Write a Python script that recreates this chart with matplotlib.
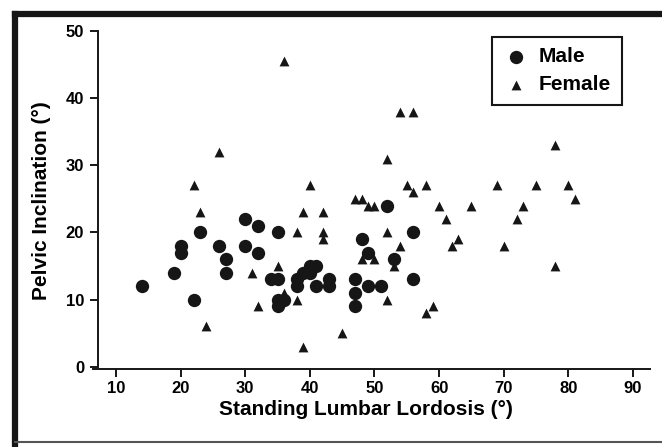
import matplotlib
matplotlib.use("Agg")
from matplotlib import pyplot as plt
from matplotlib.lines import Line2D

# standing lumbar lordosis (x) vs pelvic inclination (y), in degrees
male_x = [14, 19, 20, 20, 22, 23, 26, 27, 27, 30, 30, 32, 32, 34, 35, 35, 35, 35, 36,
          38, 38, 39, 40, 40, 41, 41, 43, 43, 47, 47, 47, 48, 49, 49, 51, 52, 53, 56, 56]
male_y = [12, 14, 18, 17, 10, 20, 18, 16, 14, 22, 18, 21, 17, 13, 13, 20, 10, 9, 10,
          13, 12, 14, 15, 14, 15, 12, 13, 12, 13, 11, 9, 19, 17, 12, 12, 24, 16, 20, 13]

female_x = [22, 23, 24, 26, 31, 32, 35, 36, 36, 38, 38, 39, 39, 40, 42, 42, 42, 45,
            47, 48, 48, 49, 50, 50, 52, 52, 52, 53, 54, 54, 55, 56, 56, 58, 58, 59,
            60, 61, 62, 63, 65, 69, 70, 72, 73, 75, 78, 78, 80, 81]
female_y = [27, 23, 6, 32, 14, 9, 15, 45.5, 11, 20, 10, 23, 3, 27, 23, 20, 19, 5,
            25, 25, 16, 24, 24, 16, 31, 20, 10, 15, 18, 38, 27, 38, 26, 27, 8, 9,
            24, 22, 18, 19, 24, 27, 18, 22, 24, 27, 33, 15, 27, 25]

x_ticks = [10, 20, 30, 40, 50, 60, 70, 80, 90]
y_ticks = [0, 10, 20, 30, 40, 50]

plt.rcParams["font.family"] = ["Liberation Sans", "DejaVu Sans"]
plt.rcParams["font.weight"] = "bold"

fig = plt.figure(figsize=(6.62, 4.47), dpi=100)
ax = fig.add_axes([0.1411, 0.1735, 0.8414, 0.7571])

ink = "#161616"
ax.scatter(male_x, male_y, s=92, marker="o", color=ink, linewidths=0, label="Male", zorder=3)
ax.scatter(female_x, female_y, s=50, marker="^", color=ink, linewidths=0, label="Female", zorder=3)

ax.set_xlim(6.5, 92.7)
ax.set_ylim(-0.4, 50)
ax.spines["left"].set_position(("data", 7.2))
ax.spines["left"].set_bounds(0, 50)
ax.spines["top"].set_visible(False)
ax.spines["right"].set_visible(False)
for s in ("left", "bottom"):
    ax.spines[s].set_linewidth(1.4)
    ax.spines[s].set_color(ink)

ax.set_xticks(x_ticks)
ax.set_yticks(y_ticks)
ax.tick_params(direction="out", length=6, width=1.4, color=ink, labelsize=12, pad=4)
ax.tick_params(axis="x", pad=2)

ax.set_xlabel("Standing Lumbar Lordosis (°)", fontsize=15, fontweight="bold")
ax.set_ylabel("Pelvic Inclination (°)", fontsize=15, fontweight="bold")
ax.xaxis.set_label_coords(0.489, -0.09)
ax.yaxis.set_label_coords(-0.077, 0.5)

leg = ax.legend(loc="upper right", bbox_to_anchor=(0.939, 0.918),
                bbox_transform=fig.transFigure, fancybox=False, framealpha=1,
                edgecolor=ink, fontsize=15, borderaxespad=0, handletextpad=0.45,
                borderpad=0.5, labelspacing=0.45, handlelength=1.3)
leg.get_frame().set_linewidth(1.5)

# scanned page frame: thick left/top edge, thin bottom edge
fig.add_artist(Line2D([15 / 662, 15 / 662], [0, 1 - 14 / 447], transform=fig.transFigure,
                      color=ink, lw=4.5, solid_capstyle="projecting"))
fig.add_artist(Line2D([15 / 662, 1], [1 - 14 / 447, 1 - 14 / 447], transform=fig.transFigure,
                      color=ink, lw=4.5, solid_capstyle="projecting"))
fig.add_artist(Line2D([15 / 662, 1], [1 - 442 / 447, 1 - 442 / 447], transform=fig.transFigure,
                      color="#555555", lw=1.5))

fig.savefig("out.png", dpi=100)
